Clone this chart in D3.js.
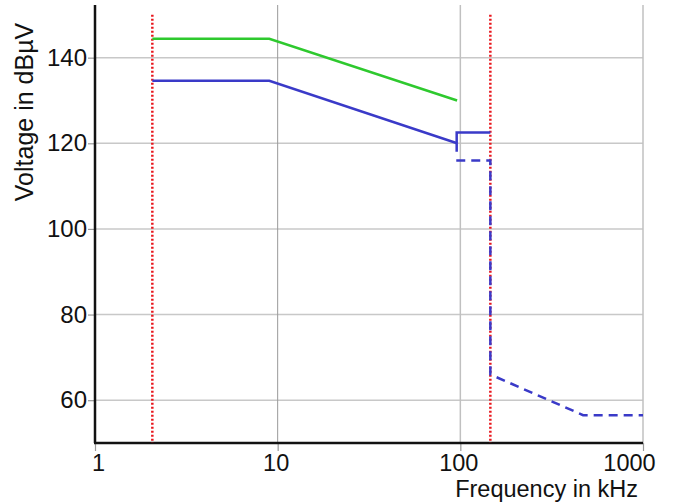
<!DOCTYPE html>
<html>
<head>
<meta charset="utf-8">
<script src="https://cdn.jsdelivr.net/npm/d3@7"></script>
<style>
  body { margin: 0; background: #fff; }
  svg text { font-family: "Liberation Sans", Arial, sans-serif; fill: #111; }
</style>
</head>
<body>
<svg id="vis" width="673" height="503"></svg>
<script>
// values (kHz / dBuV)
var freqTicks = [1, 10, 100, 1000];
var voltTicks = [60, 80, 100, 120, 140];

var greenFreq = [2.06, 9, 96];
var greenVolt = [144.4, 144.4, 130];

var blueFreq = [2.06, 9, 96];
var blueVolt = [134.6, 134.6, 120];

var blueStepFreq = [95.5, 95.5, 146];
var blueStepVolt = [118, 122.5, 122.5];

var blueDashFreq = [95, 146, 146, 470, 1000];
var blueDashVolt = [116, 116, 66, 56.5, 56.5];

var redFreq = [2.06, 146];
var redTop = 150;

var _vis = d3.select("#vis");

var x = d3.scaleLog().domain([1, 1000]).range([95, 643]);
var y = d3.scaleLinear().domain([50, 152.3]).range([443, 5]);

// gridlines
_vis.append("g").selectAll("line")
    .data(voltTicks)
    .enter().append("line")
    .attr("x1", x(1)).attr("x2", x(1000))
    .attr("y1", d => y(d)).attr("y2", d => y(d))
    .attr("stroke", "#c8c8c8").attr("stroke-width", 1.5);

_vis.append("g").selectAll("line")
    .data(freqTicks.slice(1))
    .enter().append("line")
    .attr("x1", d => x(d)).attr("x2", d => x(d))
    .attr("y1", y.range()[1]).attr("y2", y.range()[0])
    .attr("stroke", (d, i) => i === 0 ? "#999" : "#c0c0c0")
    .attr("stroke-width", (d, i) => i === 0 ? 1 : 1.5);

// axes
var xAxis = _vis.append("g")
    .attr("transform", "translate(0," + y(50) + ")")
    .call(d3.axisBottom(x).tickValues(freqTicks).tickFormat(d3.format("d")).tickSize(8).tickPadding(3));
xAxis.selectAll("text")
    .style("font-size", "23.5px")
    .attr("dx", (d, i) => i === freqTicks.length - 1 ? "-14" : (i === 0 ? "3" : "-2"));

var yAxis = _vis.append("g")
    .attr("transform", "translate(" + x(1) + ",0)")
    .call(d3.axisLeft(y).tickValues(voltTicks).tickSize(7).tickPadding(1));
yAxis.selectAll("text").style("font-size", "24px");

_vis.selectAll(".tick line").attr("stroke", "#999").attr("stroke-width", 1.2);
_vis.selectAll(".domain").remove();

// axis lines
_vis.append("line")
    .attr("x1", x(1)).attr("x2", x(1))
    .attr("y1", y.range()[1]).attr("y2", y.range()[0])
    .attr("stroke", "#111").attr("stroke-width", 2.5);
_vis.append("line")
    .attr("x1", x(1) - 1).attr("x2", x(1000))
    .attr("y1", y(50)).attr("y2", y(50))
    .attr("stroke", "#111").attr("stroke-width", 2.5);

// red dotted limits
_vis.append("g").selectAll("line")
    .data(redFreq)
    .enter().append("line")
    .attr("x1", d => x(d)).attr("x2", d => x(d))
    .attr("y1", y(redTop)).attr("y2", y(50))
    .attr("stroke", "#e8161c").attr("stroke-width", 2.5)
    .attr("stroke-dasharray", "2,2");

var line = d3.line().x(d => x(d[0])).y(d => y(d[1]));

function drawSeries(fr, vo, color, dash) {
    _vis.append("path")
        .datum(d3.zip(fr, vo))
        .attr("d", line)
        .attr("fill", "none")
        .attr("stroke", color)
        .attr("stroke-width", 2.5)
        .attr("stroke-dasharray", dash || null);
}

drawSeries(greenFreq, greenVolt, "#2ec92e");
drawSeries(blueFreq, blueVolt, "#3a3ac8");
drawSeries(blueStepFreq, blueStepVolt, "#3a3ac8");
drawSeries(blueDashFreq, blueDashVolt, "#3a3ac8", "9,6");

// titles
_vis.append("text")
    .attr("transform", "translate(33,112) rotate(-90)")
    .attr("text-anchor", "middle")
    .style("font-size", "25px")
    .text("Voltage in dBµV");

_vis.append("text")
    .attr("x", 638).attr("y", 497)
    .attr("text-anchor", "end")
    .style("font-size", "23.5px")
    .text("Frequency in kHz");
</script>
</body>
</html>
